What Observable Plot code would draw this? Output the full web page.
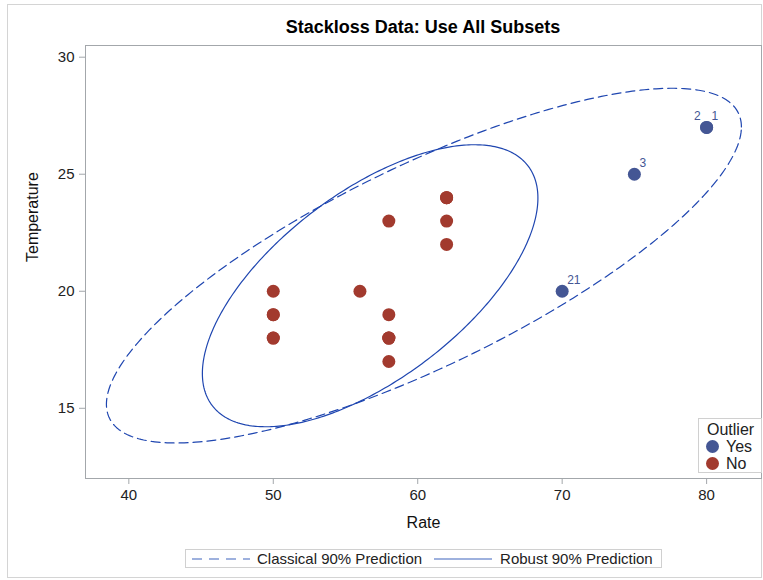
<!DOCTYPE html>
<html>
<head>
<meta charset="utf-8">
<script src="https://cdn.jsdelivr.net/npm/d3@7"></script>
<script src="https://cdn.jsdelivr.net/npm/@observablehq/plot@0.6"></script>
<style>
  html, body { margin: 0; padding: 0; background: white; }
  #wrap { position: relative; width: 763px; height: 580px; font-family: "Liberation Sans", Arial, sans-serif; color: #222; overflow: hidden; }
  #border { position: absolute; left: 7px; top: 4px; width: 755px; height: 574px; border: 1px solid #d4d4d4; box-sizing: border-box; }
  #title { position: absolute; left: 85px; width: 676px; top: 16px; text-align: center; font-weight: bold; font-size: 18px; line-height: 22px; color: #000; }
  #chart { position: absolute; left: 0; top: 40px; }
  #inlegend { position: absolute; left: 698px; top: 418px; width: 64px; height: 55px; border: 1px solid #d0d0d0; background: white; box-sizing: border-box; padding: 2px 0 0 8px; font-size: 16px; line-height: 17px; }
  #inlegend .it { display: flex; align-items: center; }
  #inlegend .sw { width: 13px; height: 13px; border-radius: 50%; display: inline-block; margin-right: 7px; margin-left: -1px; }
  #botlegend { position: absolute; left: 185px; top: 549px; width: 477px; height: 19px; border: 1px solid #d0d0d0; box-sizing: border-box; display: flex; align-items: center; font-size: 15px; white-space: nowrap; }
  #botlegend svg { display: block; }
</style>
</head>
<body>
<div id="wrap">
  <div id="border"></div>
  <div id="title"></div>
  <div id="chart"></div>
  <div id="inlegend"></div>
  <div id="botlegend"></div>
</div>
<script>
// ---- data (stackloss) ----
const rate = [80, 80, 75, 62, 62, 62, 62, 62, 58, 58, 58, 58, 58, 58, 50, 50, 50, 50, 50, 56, 70];
const temperature = [27, 27, 25, 24, 22, 23, 24, 24, 23, 18, 18, 17, 18, 19, 18, 18, 19, 19, 20, 20, 20];
const outlier = ["Yes", "Yes", "Yes", "No", "No", "No", "No", "No", "No", "No", "No", "No", "No", "No", "No", "No", "No", "No", "No", "No", "Yes"];
const leftLabeled = [2]; // observation labels placed to the left (collision with obs 1)
const outlierLevels = ["Yes", "No"];
const outlierColors = ["#445694", "#A23A2E"];
const xTicks = [40, 50, 60, 70, 80];
const yTicks = [15, 20, 25, 30];
const titleText = "Stackloss Data: Use All Subsets";
const xLabel = "Rate";
const yLabel = "Temperature";
const legendItems = ["Classical 90% Prediction", "Robust 90% Prediction"];
const fQuantile90 = 2.606; // F(0.90; 2, 19)

const rows = rate.map((r, i) => ({obs: i + 1, rate: r, temp: temperature[i], outlier: outlier[i]}));

// prediction ellipse from sample mean / covariance of a subset
function predictionEllipse(sub, nAll, label) {
  const n = sub.length, p = 2;
  const mx = d3.mean(sub, d => d.rate), my = d3.mean(sub, d => d.temp);
  const sxx = d3.sum(sub, d => (d.rate - mx) ** 2) / (n - 1);
  const syy = d3.sum(sub, d => (d.temp - my) ** 2) / (n - 1);
  const sxy = d3.sum(sub, d => (d.rate - mx) * (d.temp - my)) / (n - 1);
  const c = Math.sqrt(p * (nAll - 1) * (nAll + 1) / (nAll * (nAll - p)) * fQuantile90);
  const l11 = Math.sqrt(sxx), l21 = sxy / l11, l22 = Math.sqrt(syy - l21 * l21);
  return d3.range(0, 361).map(k => {
    const t = k / 360 * 2 * Math.PI;
    const u = Math.cos(t), v = Math.sin(t);
    return {type: label, rate: mx + c * l11 * u, temp: my + c * (l21 * u + l22 * v)};
  });
}
const classical = predictionEllipse(rows, rows.length, legendItems[0]);
const robust = predictionEllipse(rows.filter(d => d.outlier === "No"), rows.length, legendItems[1]);

const lineColor = "#1f46b0";
const labeled = rows.filter(d => d.outlier === "Yes");

document.getElementById("title").textContent = titleText;

const chart = Plot.plot({
  width: 763, height: 500,
  marginTop: 5, marginLeft: 85, marginRight: 2, marginBottom: 62,
  x: {domain: [37, 83.8]},
  y: {domain: [12, 30.5]},
  color: {domain: outlierLevels, range: outlierColors},
  style: {fontFamily: "'Liberation Sans', Arial, sans-serif", fontSize: "15px", color: "#222", background: "transparent", overflow: "visible"},
  marks: [
    Plot.frame({stroke: "#a3a7ab"}),
    Plot.axisX({ticks: xTicks, tickSize: 6, tickPadding: 5, stroke: "#a3a7ab", fill: "#222", label: null, fontSize: 15}),
    Plot.axisY({ticks: yTicks, tickSize: 6, tickPadding: 5, stroke: "#a3a7ab", fill: "#222", label: null, fontSize: 15}),
    Plot.text([xLabel], {frameAnchor: "bottom", dy: 49, fontSize: 16, fill: "#111"}),
    Plot.text([yLabel], {frameAnchor: "left", dx: -53, rotate: -90, fontSize: 16, fill: "#111"}),
    Plot.line(classical, {x: "rate", y: "temp", curve: "linear-closed", stroke: lineColor, strokeWidth: 1.2, strokeDasharray: "9,5"}),
    Plot.line(robust, {x: "rate", y: "temp", curve: "linear-closed", stroke: lineColor, strokeWidth: 1.2}),
    Plot.dot(rows, {x: "rate", y: "temp", fill: "outlier", r: 6.5}),
    Plot.text(labeled.filter(d => !leftLabeled.includes(d.obs)), {x: "rate", y: "temp", text: d => String(d.obs), textAnchor: "start", dx: 5, dy: -11, fontSize: 12, fill: "#445694"}),
    Plot.text(labeled.filter(d => leftLabeled.includes(d.obs)), {x: "rate", y: "temp", text: d => String(d.obs), textAnchor: "end", dx: -6, dy: -11, fontSize: 12, fill: "#445694"})
  ]
});
document.getElementById("chart").appendChild(chart);

// inner legend (Outlier)
const inl = document.getElementById("inlegend");
inl.innerHTML = `<div>Outlier</div>` + outlierLevels.map((l, i) =>
  `<div class="it"><span class="sw" style="background:${outlierColors[i]}"></span>${l}</div>`).join("");

// bottom legend
const bl = document.getElementById("botlegend");
bl.innerHTML =
  `<svg width="65" height="10" style="margin-left:6px"><line x1="0" y1="5" x2="58" y2="5" stroke="#3f64bd" stroke-width="1.2" stroke-dasharray="10,7"/></svg>` +
  `<span>${legendItems[0]}</span>` +
  `<svg width="78" height="10"><line x1="12" y1="5" x2="70" y2="5" stroke="#3f64bd" stroke-width="1.2"/></svg>` +
  `<span>${legendItems[1]}</span>`;
</script>
</body>
</html>
